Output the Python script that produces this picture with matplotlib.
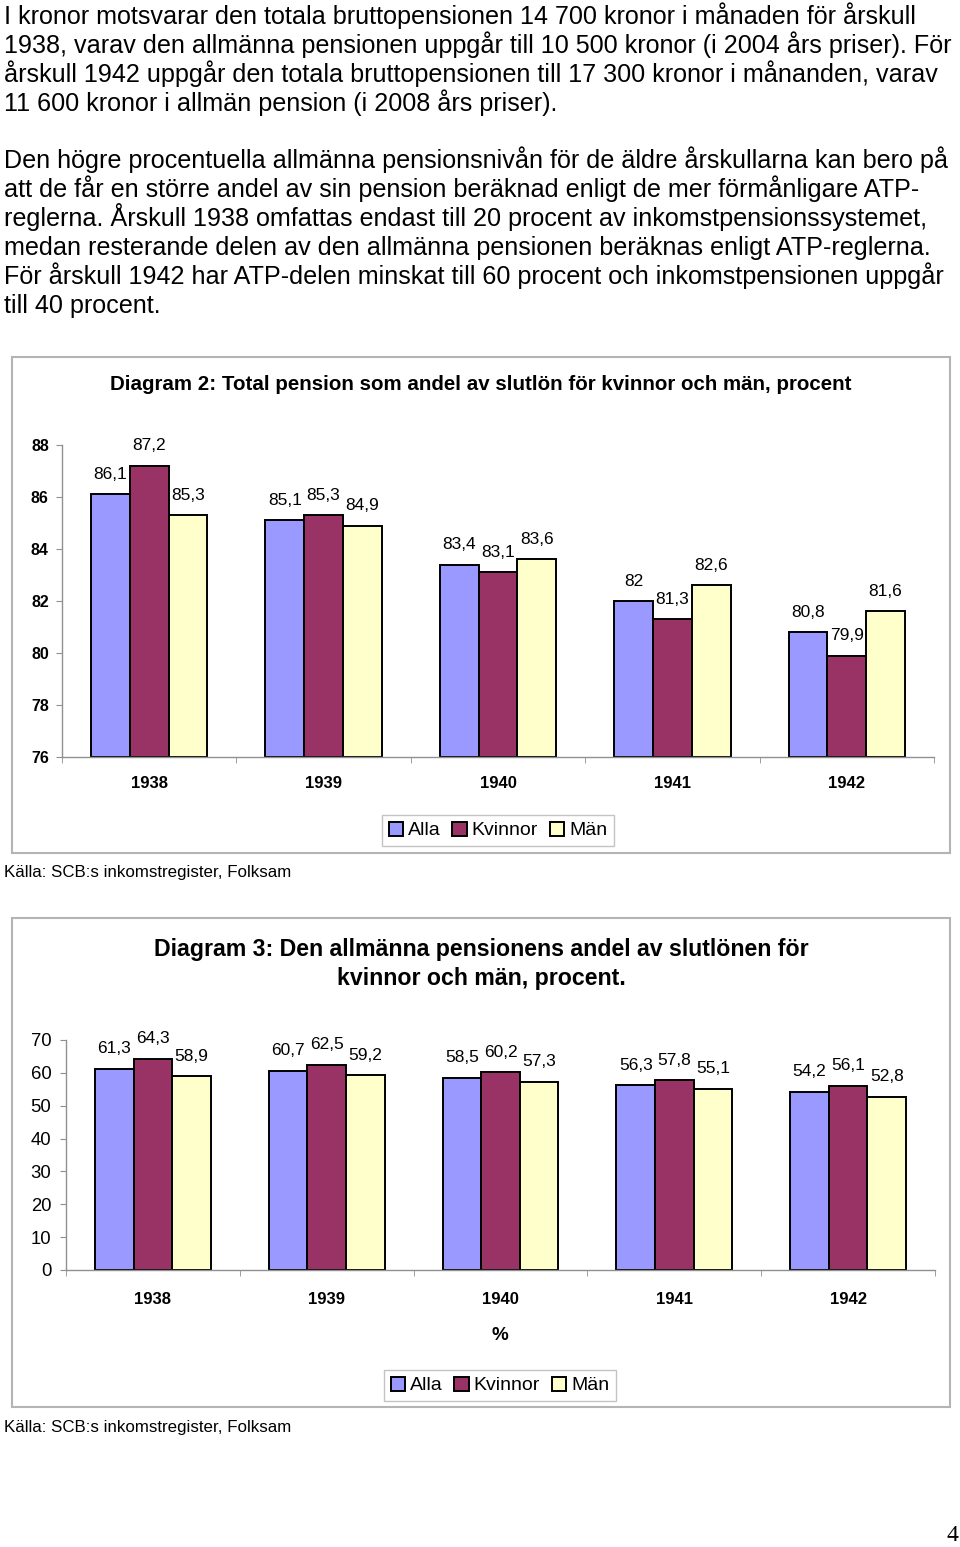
import matplotlib
matplotlib.use("Agg")
import matplotlib.pyplot as plt
import numpy as np
from matplotlib.patches import Rectangle, Patch

plt.rcParams['font.family'] = ['Liberation Sans', 'DejaVu Sans']

# Data
years = ["1938", "1939", "1940", "1941", "1942"]
series = ["Alla", "Kvinnor", "Män"]
colors = ["#9999FF", "#993366", "#FFFFCC"]

total_alla = [86.1, 85.1, 83.4, 82.0, 80.8]
total_kvinnor = [87.2, 85.3, 83.1, 81.3, 79.9]
total_man = [85.3, 84.9, 83.6, 82.6, 81.6]

allm_alla = [61.3, 60.7, 58.5, 56.3, 54.2]
allm_kvinnor = [64.3, 62.5, 60.2, 57.8, 56.1]
allm_man = [58.9, 59.2, 57.3, 55.1, 52.8]

para1 = [
    "I kronor motsvarar den totala bruttopensionen 14 700 kronor i månaden för årskull",
    "1938, varav den allmänna pensionen uppgår till 10 500 kronor (i 2004 års priser). För",
    "årskull 1942 uppgår den totala bruttopensionen till 17 300 kronor i månanden, varav",
    "11 600 kronor i allmän pension (i 2008 års priser).",
]
para2 = [
    "Den högre procentuella allmänna pensionsnivån för de äldre årskullarna kan bero på",
    "att de får en större andel av sin pension beräknad enligt de mer förmånligare ATP-",
    "reglerna. Årskull 1938 omfattas endast till 20 procent av inkomstpensionssystemet,",
    "medan resterande delen av den allmänna pensionen beräknas enligt ATP-reglerna.",
    "För årskull 1942 har ATP-delen minskat till 60 procent och inkomstpensionen uppgår",
    "till 40 procent.",
]

W, H = 960, 1547
fig = plt.figure(figsize=(W / 100, H / 100), dpi=100)


def fx(x):
    return x / W


def fy(y):
    return 1 - y / H


# body text
for i, line in enumerate(para1):
    fig.text(fx(4), fy(24 + 29 * i), line, fontsize=18.1, va='baseline', ha='left')
for i, line in enumerate(para2):
    fig.text(fx(4), fy(168 + 29 * i), line, fontsize=18.1, va='baseline', ha='left')

# chart frames
for (x0, y0, x1, y1) in [(12, 357, 950, 853), (12, 918, 950, 1407)]:
    fig.add_artist(Rectangle((fx(x0), fy(y1)), fx(x1) - fx(x0), fy(y0) - fy(y1),
                             transform=fig.transFigure, fill=False,
                             edgecolor="#b4b4b4", linewidth=1.5))


def bar_chart(rect, data, ymin, ymax, step, tick_bold, tick_size, xpad, ypad):
    l, t, r, b = rect
    ax = fig.add_axes([fx(l), fy(b), fx(r) - fx(l), fy(t) - fy(b)])
    x = np.arange(len(years))
    w = 1 / 4.5
    for k, (vals, c) in enumerate(zip(data, colors)):
        xs = x + (k - 1) * w
        ax.bar(xs, np.array(vals) - ymin, bottom=ymin, width=w, color=c,
               edgecolor="black", linewidth=1.4, zorder=3)
        for xi, v in zip(xs, vals):
            lab = f"{v:g}".replace(".", ",")
            ax.annotate(lab, (xi, v), xytext=(0, 20), textcoords='offset pixels',
                        ha='center', va='center', fontsize=12.5)
    ax.set_xlim(-0.5, len(years) - 0.5)
    ax.set_ylim(ymin, ymax)
    ax.set_yticks(np.arange(ymin, ymax + 0.1, step))
    ax.set_yticklabels([str(v) for v in range(ymin, ymax + 1, step)],
                       fontweight='bold' if tick_bold else 'normal', fontsize=tick_size)
    ax.set_xticks(x)
    ax.set_xticklabels(years, fontweight='bold', fontsize=12)
    ax.set_xticks(np.arange(-0.5, len(years)), minor=True)
    ax.tick_params(axis='x', which='major', length=0, pad=xpad)
    ax.tick_params(axis='x', which='minor', length=4, color="#909090", direction='out')
    ax.tick_params(axis='y', length=4, color="#909090", direction='out', pad=ypad)
    for s in ['top', 'right']:
        ax.spines[s].set_visible(False)
    for s in ['left', 'bottom']:
        ax.spines[s].set_color("#909090")
        ax.spines[s].set_linewidth(1.0)
    ax.spines['bottom'].set_zorder(4)
    return ax


ax1 = bar_chart((62, 445, 934, 757), [total_alla, total_kvinnor, total_man],
                76, 88, 2, True, 11.5, 14, 5.5)
fig.text(fx(481), fy(385), "Diagram 2: Total pension som andel av slutlön för kvinnor och män, procent",
         ha='center', va='center', fontsize=14.8, fontweight='bold')

ax2 = bar_chart((66, 1040, 935, 1270), [allm_alla, allm_kvinnor, allm_man],
                0, 70, 10, False, 13.3, 16, 6.5)
fig.text(fx(481), fy(949), "Diagram 3: Den allmänna pensionens andel av slutlönen för",
         ha='center', va='center', fontsize=16.7, fontweight='bold')
fig.text(fx(481), fy(978), "kvinnor och män, procent.",
         ha='center', va='center', fontsize=16.7, fontweight='bold')
fig.text(fx(500), fy(1335), "%", ha='center', va='center', fontsize=13.5, fontweight='bold')

handles = [Patch(facecolor=c, edgecolor='black', linewidth=1.4) for c in colors]
for cx, cy in [(498, 830.5), (500, 1385.5)]:
    leg = fig.legend(handles, series, loc='center', bbox_to_anchor=(fx(cx), fy(cy)),
                     ncol=3, fontsize=14, frameon=True, fancybox=False,
                     handlelength=0.75, handleheight=0.75, handletextpad=0.25,
                     columnspacing=0.6, borderpad=0.35, borderaxespad=0)
    leg.get_frame().set_edgecolor("#b4b4b4")
    leg.get_frame().set_linewidth(1.0)

for y in [877, 1432]:
    fig.text(fx(4), fy(y), "Källa: SCB:s inkomstregister, Folksam", fontsize=12.2,
             va='baseline', ha='left')

fig.text(fx(958), fy(1546), "4", fontsize=17, family='Liberation Serif',
         ha='right', va='bottom')

fig.savefig("out.png", dpi=100)
